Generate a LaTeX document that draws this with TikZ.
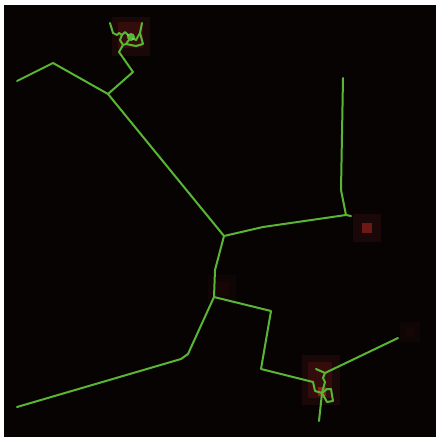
\documentclass[tikz,border=0pt]{standalone}
\begin{document}
\begin{tikzpicture}[x=1pt,y=-1pt,
  edge/.style={draw=lgreen,line width=2pt,line join=round,line cap=round}]
\definecolor{bg}{RGB}{8,3,3}
\definecolor{lgreen}{RGB}{88,182,52}
\definecolor{gdim}{RGB}{26,7,7}
\definecolor{gmid}{RGB}{52,12,11}
\definecolor{gbright}{RGB}{135,30,28}
\definecolor{gfaint}{RGB}{16,5,5}
\definecolor{gsoft}{RGB}{22,6,6}
\useasboundingbox (0,0) rectangle (438,441);
\fill[white] (0,0) rectangle (438,441);
\fill[bg] (4,5) rectangle (436,437);
% glows
\fill[gdim] (112,17) rectangle (150,56);
\fill[gmid] (118,22) rectangle (143,48);
\fill[gdim] (353,214) rectangle (381,242);
\fill[gbright!80!black] (362,223) rectangle (372,233);
\fill[gfaint] (400,322) rectangle (420,342);
\fill[gsoft] (406,328) rectangle (414,336);
\fill[gfaint] (208,275) rectangle (236,302);
\fill[gsoft] (215,282) rectangle (229,296);
\fill[gdim] (302,355) rectangle (340,405);
\fill[gmid] (308,362) rectangle (332,398);
\fill[gbright] (318,387) rectangle (326,396);
% coordinates
\coordinate (l1) at (17,81);
\coordinate (l2) at (53,63);
\coordinate (j1) at (108,94);
\coordinate (c) at (224,236);
\coordinate (t1) at (133,72);
\coordinate (t2) at (119,52);
\coordinate (t3) at (123,45);
\coordinate (r1) at (263,227);
\coordinate (r2) at (346,215);
\coordinate (r2b) at (351,216);
\coordinate (r3) at (341,190);
\coordinate (r4) at (343,78);
\coordinate (m1) at (215,270);
\coordinate (m2) at (214,297);
\coordinate (b1) at (271,311);
\coordinate (b2) at (261,369);
\coordinate (b3) at (313,382);
\coordinate (s1) at (188,354);
\coordinate (s2) at (181,359);
\coordinate (s3) at (17,407);
\coordinate (e1) at (398,338);
\coordinate (e2) at (325,373);
% main skeleton
\draw[edge] (l1) -- (l2) -- (j1) -- (c);
\draw[edge] (j1) -- (t1) -- (t2) -- (t3);
\draw[edge] (c) -- (r1) -- (r2) -- (r3) -- (r4);
\draw[edge] (r2) -- (r2b);
\draw[edge] (c) -- (m1) -- (m2);
\draw[edge] (m2) -- (b1) -- (b2) -- (b3);
\draw[edge] (m2) -- (s1) -- (s2) -- (s3);
% top tangle
\coordinate (k1) at (126,44);
\coordinate (k2) at (131,37);
\draw[edge] (t3) -- (k1) -- (k2);
\draw[edge] (t3) -- (120,40) -- (122,35) -- (119,33) -- (117,35) -- (113,33) -- (110,23);
\draw[edge] (122,35) -- (125,32) -- (128,35) -- (k2);
\draw[edge] (k1) -- (136,46) -- (143,44) -- (140,33) -- (142,23);
\draw[edge] (k2) -- (136,40) -- (140,33);
\fill[lgreen] (k2) circle (4);
\fill[lgreen!50!white] (128,35) circle (0.9);
\fill[lgreen!50!white] (133,39) circle (0.9);
% bottom-right tangle
\coordinate (q1) at (322,393);
\draw[edge] (e1) -- (e2) -- (316,369);
\draw[edge] (e2) -- (323,378) -- (325,382) -- (q1);
\draw[edge] (b3) -- (315,391) -- (q1);
\draw[edge] (q1) -- (327,389) -- (331,389) -- (333,401) -- (327,402) -- (q1);
\draw[edge] (q1) -- (319,421);
\end{tikzpicture}
\end{document}
